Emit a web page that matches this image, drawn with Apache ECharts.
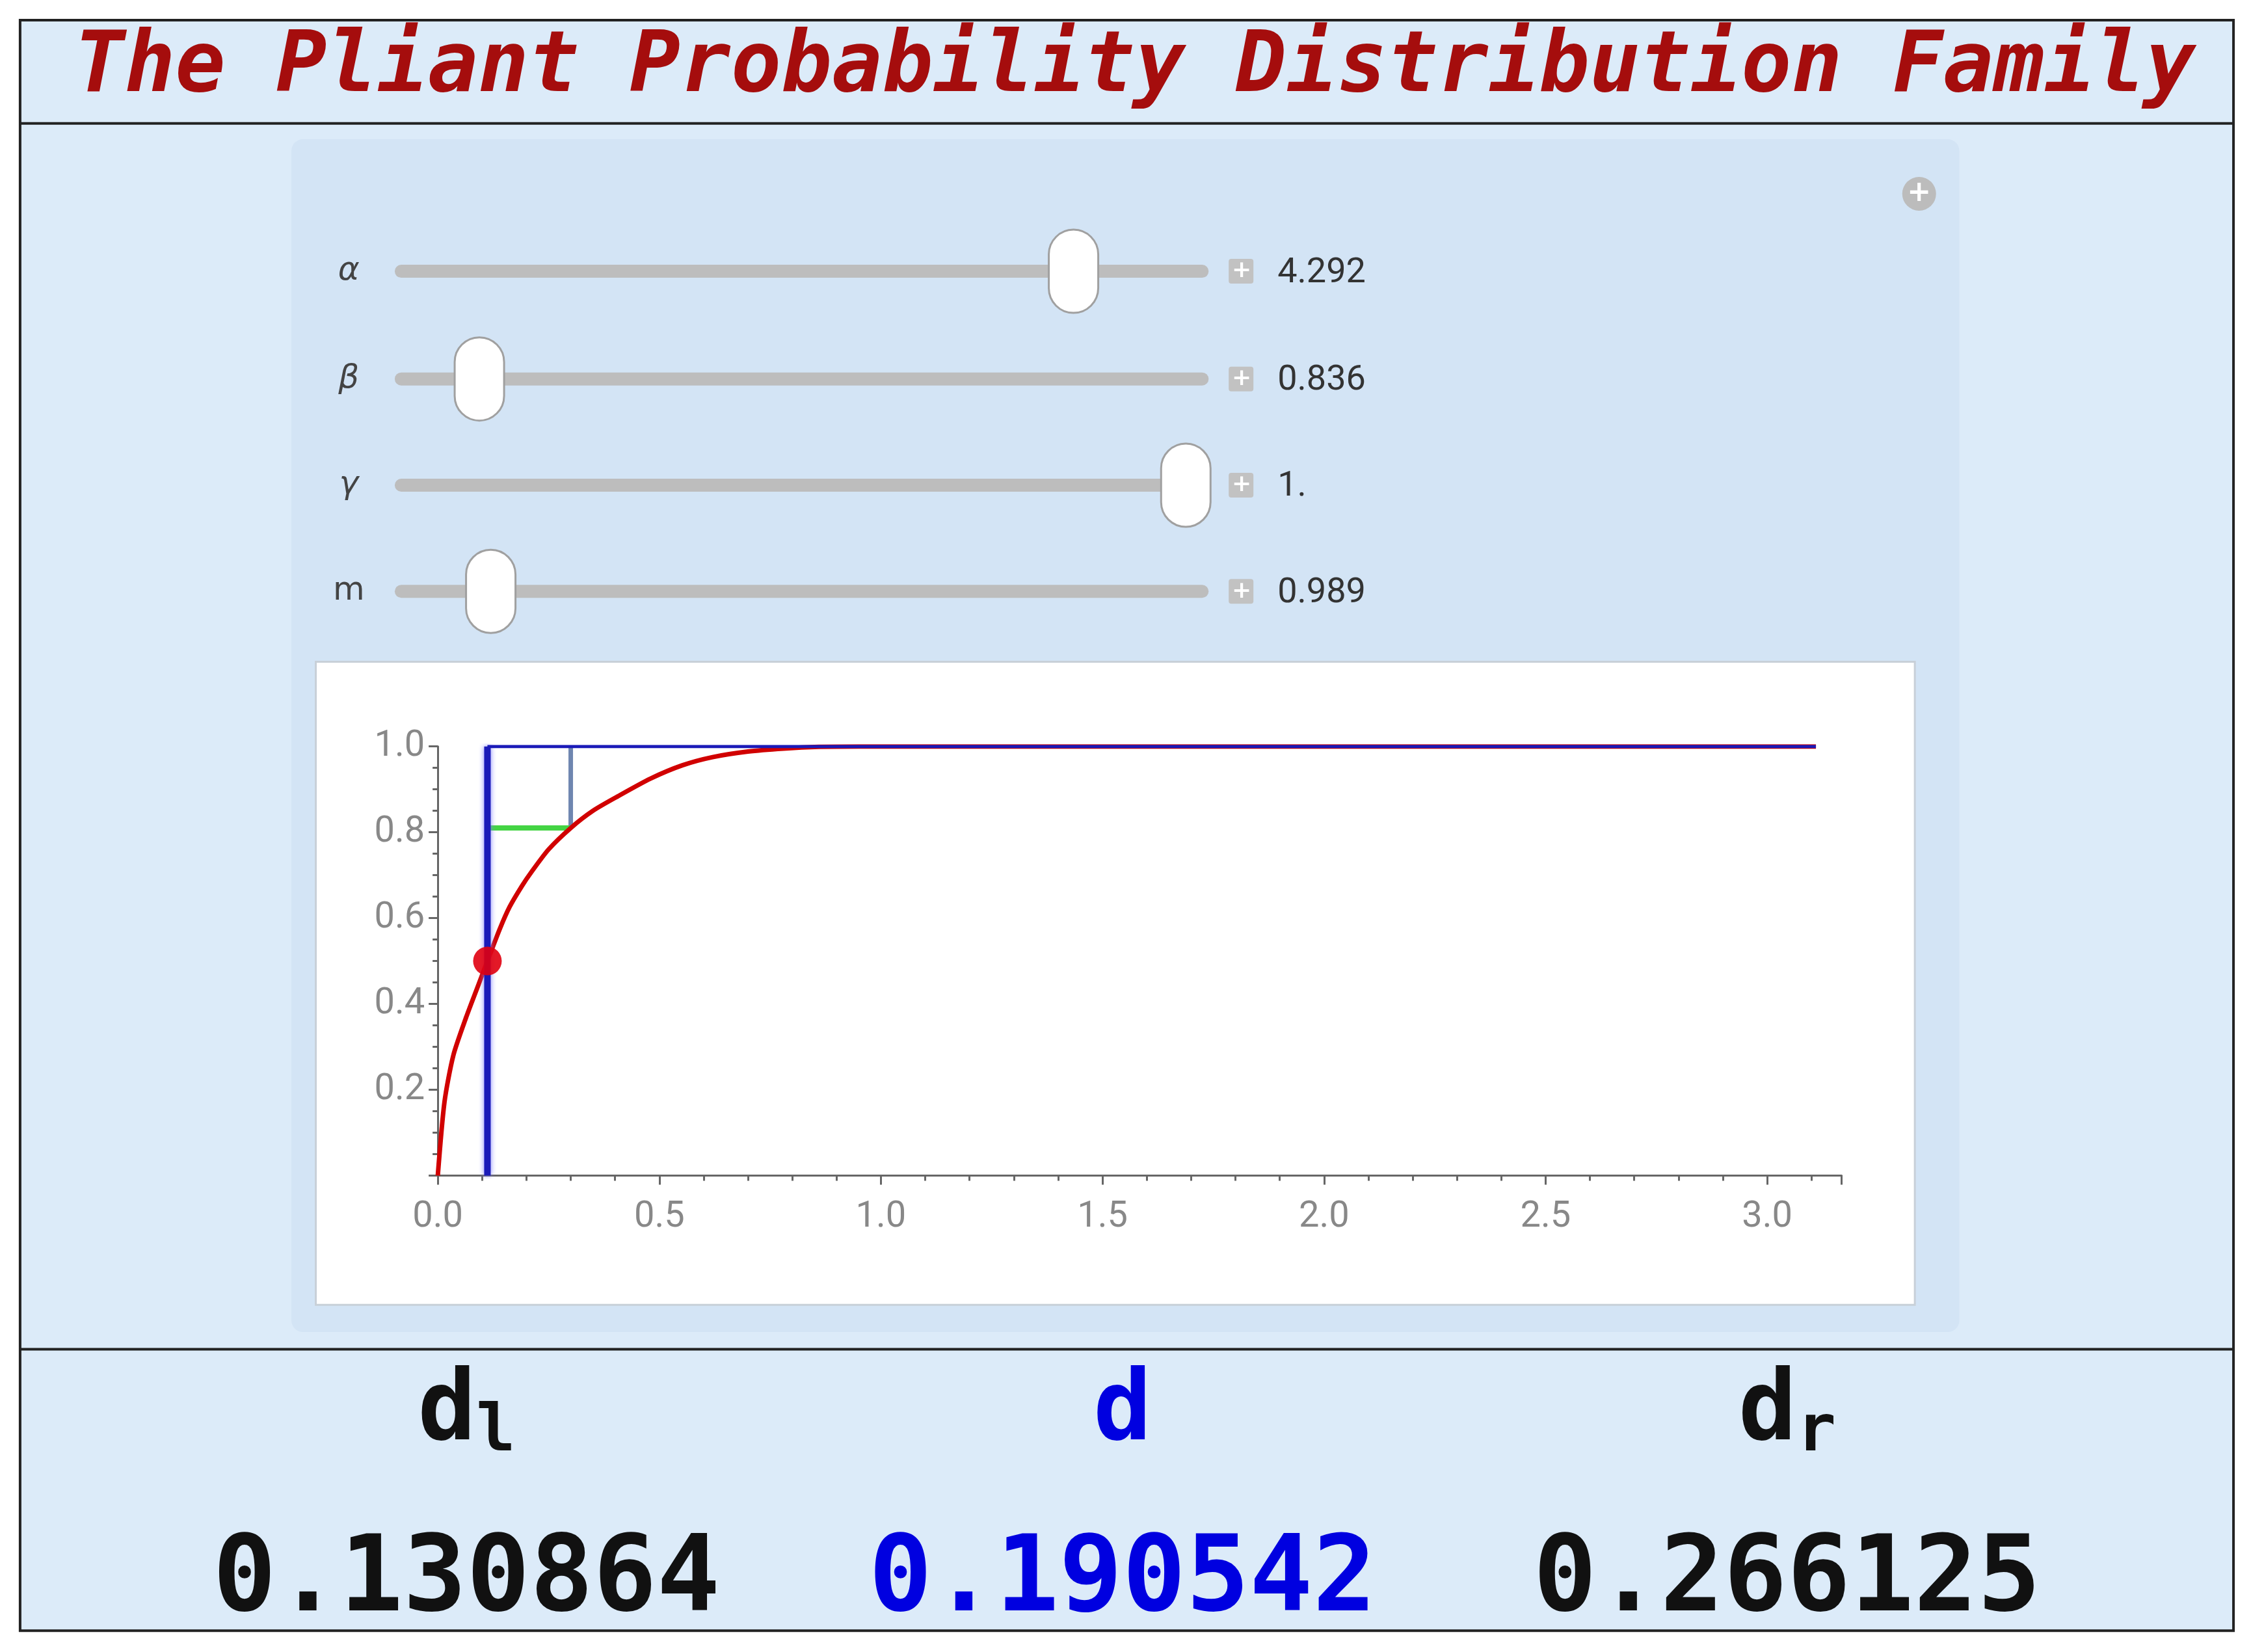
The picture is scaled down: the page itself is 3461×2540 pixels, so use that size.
<!DOCTYPE html>
<html>
<head>
<meta charset="utf-8">
<script src="https://cdn.jsdelivr.net/npm/echarts@6/dist/echarts.min.js"></script>
<style>
  html, body { margin: 0; padding: 0; background: #fff; }
  #main { width: 3461px; height: 2540px; }
</style>
</head>
<body>
<div id="main"></div>
<script>
// slider panel
const sliderNames = ['α', 'β', 'γ', 'm']
const sliderLabels = ['4.292', '0.836', '1.', '0.989']
const sliderPos = [0.834, 0.104, 0.972, 0.118] // thumb position along track

// CDF curve
const curveX = [0, 0.015, 0.035, 0.064, 0.09, 0.112, 0.14, 0.162, 0.19, 0.211, 0.25, 0.30, 0.35, 0.405, 0.48, 0.552, 0.62, 0.70, 0.78, 0.86, 0.95, 1.2, 2.0, 3.11]
const curveY = [0, 0.171, 0.28, 0.369, 0.44, 0.50, 0.575, 0.626, 0.675, 0.707, 0.76, 0.81, 0.85, 0.883, 0.925, 0.956, 0.975, 0.988, 0.995, 0.999, 1.0, 1.0, 1.0, 1.0]

const dLeft = 0.112, dRight = 0.30, pLevel = 0.81, xEnd = 3.11
const pointY = 0.5
const bottomNames = [['d', 'l'], ['d', ''], ['d', 'r']]
const bottomValues = ['0.130864', '0.190542', '0.266125']

const S = 2.207
const chart = echarts.init(document.getElementById('main'))

const graphics = []
const bg = '#dcebf9'
// frame
graphics.push({ type: 'rect', z: -10, shape: { x: 14 * S, y: 14 * S, width: 1542 * S, height: 1122 * S }, style: { fill: bg, stroke: '#222', lineWidth: 4 } })
graphics.push({ type: 'line', z: -9, shape: { x1: 14 * S, y1: 86 * S, x2: 1556 * S, y2: 86 * S }, style: { stroke: '#222', lineWidth: 4 } })
graphics.push({ type: 'line', z: -9, shape: { x1: 14 * S, y1: 940 * S, x2: 1556 * S, y2: 940 * S }, style: { stroke: '#222', lineWidth: 4 } })
// manipulate panel
graphics.push({ type: 'rect', z: -9, shape: { x: 203 * S, y: 97 * S, width: 1162 * S, height: 831 * S, r: 18 }, style: { fill: '#d3e4f5' } })
// plot frame
graphics.push({ type: 'rect', z: -8, shape: { x: 220 * S, y: 461 * S, width: 1114 * S, height: 448 * S }, style: { fill: '#fff', stroke: '#c8d0d8', lineWidth: 3 } })
// title
graphics.push({ type: 'text', x: 1745, y: 106, style: { text: 'The Pliant Probability Distribution Family', font: 'italic bold 129px "DejaVu Sans Mono"', fill: '#a50d0d', align: 'center', verticalAlign: 'middle' } })
// top-right plus
graphics.push({ type: 'circle', shape: { cx: 1337 * S, cy: 135 * S, r: 26 }, style: { fill: '#bcbcbc' } })
graphics.push({ type: 'text', x: 1337 * S, y: 135 * S, style: { text: '+', font: 'bold 44px "DejaVu Sans"', fill: '#fff', align: 'center', verticalAlign: 'middle' } })

const rowY = [189, 264, 338, 412]
sliderNames.forEach((n, i) => {
  const y = rowY[i] * S
  graphics.push({ type: 'text', x: 243 * S, y: y, style: { text: n, font: (n === 'm' ? '' : 'italic ') + '50px "DejaVu Sans"', fill: '#444', align: 'center', verticalAlign: 'middle' } })
  graphics.push({ type: 'rect', shape: { x: 275 * S, y: y - 10, width: 567 * S, height: 20, r: 10 }, style: { fill: '#bdbdbd' } })
  const tx = (275 + sliderPos[i] * 567) * S
  graphics.push({ type: 'rect', shape: { x: tx - 38, y: y - 64, width: 76, height: 128, r: 38 }, style: { fill: '#fff', stroke: '#a0a0a0', lineWidth: 3 } })
  graphics.push({ type: 'rect', shape: { x: 856 * S, y: y - 19, width: 38, height: 38, r: 4 }, style: { fill: '#c2c2c2' } })
  graphics.push({ type: 'text', x: 865 * S, y: y, style: { text: '+', font: 'bold 36px "DejaVu Sans"', fill: '#fff', align: 'center', verticalAlign: 'middle' } })
  graphics.push({ type: 'text', x: 890 * S, y: y + 3, style: { text: sliderLabels[i], font: '54px Roboto', fill: '#333', verticalAlign: 'middle' } })
})

const colX = [325, 782, 1245]
bottomNames.forEach((n, i) => {
  const col = i === 1 ? '#0000e0' : '#111'
  graphics.push({ type: 'text', x: colX[i] * S, y: 985 * S, style: {
    text: '{a|' + n[0] + '}{b|' + n[1] + '}', align: 'center', verticalAlign: 'middle',
    rich: { a: { font: 'bold 150px "DejaVu Sans Mono"', fill: col }, b: { font: 'bold 100px "DejaVu Sans Mono"', fill: col, padding: [60, 0, 0, 0] } } } })
  graphics.push({ type: 'text', x: colX[i] * S, y: 1103 * S, style: { text: bottomValues[i], font: 'bold 162px "DejaVu Sans Mono"', fill: col, align: 'center', verticalAlign: 'middle' } })
})

const axisCol = '#666'
chart.setOption({
  animation: false,
  grid: { left: 305 * S, top: 520 * S, width: (1283 - 305) * S, height: (819 - 520) * S },
  xAxis: {
    type: 'value', min: 0, max: 3.168, interval: 0.5,
    axisLine: { lineStyle: { color: axisCol, width: 3 } },
    axisTick: { length: 14, lineStyle: { color: axisCol, width: 3 } },
    minorTick: { show: true, splitNumber: 5, length: 8, lineStyle: { color: axisCol, width: 3 } },
    axisLabel: { fontSize: 56, color: '#888', fontFamily: 'Roboto', margin: 36, showMaxLabel: false, formatter: v => v.toFixed(1) },
    splitLine: { show: false }
  },
  yAxis: {
    type: 'value', min: 0, max: 1, interval: 0.2,
    axisLine: { onZero: false, lineStyle: { color: axisCol, width: 3 } },
    axisTick: { length: 14, lineStyle: { color: axisCol, width: 3 } },
    minorTick: { show: true, splitNumber: 4, length: 8, lineStyle: { color: axisCol, width: 3 } },
    axisLabel: { fontSize: 56, color: '#888', fontFamily: 'Roboto', margin: 20, showMinLabel: false, formatter: v => v.toFixed(1) },
    splitLine: { show: false }
  },
  series: [
    { type: 'line', showSymbol: false, smooth: 0.25, z: 3,
      data: curveX.map((x, i) => [x, curveY[i]]), lineStyle: { color: '#d10000', width: 7 } },
    { type: 'line', showSymbol: false, z: 4,
      data: [[dLeft, 0], [dLeft, 1]], lineStyle: { color: '#1a1ab8', width: 10, shadowColor: '#8080ff', shadowBlur: 8 } },
    { type: 'line', showSymbol: false, z: 4,
      data: [[dLeft, 1], [xEnd, 1]], lineStyle: { color: '#1a1ab8', width: 5 } },
    { type: 'line', showSymbol: false, z: 2,
      data: [[dRight, pLevel], [dRight, 1]], lineStyle: { color: '#6f86b0', width: 7 } },
    { type: 'line', showSymbol: false, z: 2,
      data: [[dLeft, pLevel], [dRight, pLevel]], lineStyle: { color: '#44d444', width: 8 } },
    { type: 'scatter', z: 5, symbolSize: 44, data: [[dLeft, pointY]], itemStyle: { color: '#e00010', opacity: 0.9 } }
  ],
  graphic: graphics
})
</script>
</body>
</html>
